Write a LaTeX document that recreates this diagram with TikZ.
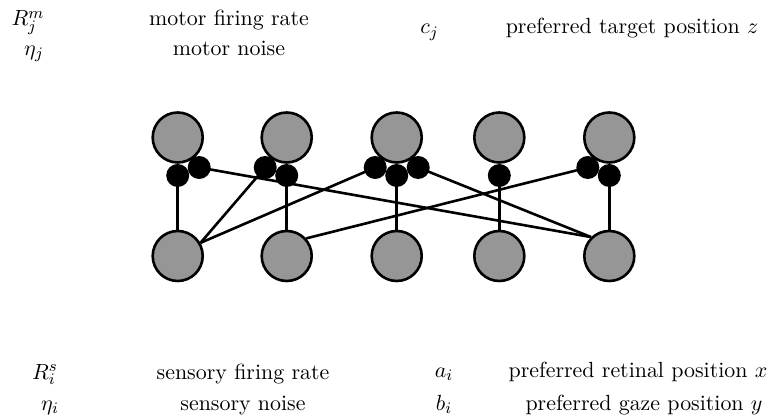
\documentclass[tikz,border=0pt]{standalone}
\definecolor{cellgray}{RGB}{150,150,150}
\begin{document}
\begin{tikzpicture}[x=0.5pt,y=-0.5pt,
  cell/.style={circle,draw=black,line width=1.3pt,fill=cellgray,minimum size=25pt,inner sep=0pt},
  syn/.style={circle,fill=black,minimum size=11.5pt,inner sep=0pt},
  wire/.style={line width=1.3pt},
  lbl/.style={anchor=base,inner sep=0pt,font=\fontsize{10.95}{13}\selectfont}]
\useasboundingbox (0,0) rectangle (780,416);

% motor layer (top)
\node[cell] (t1) at (177.7,137.5) {};
\node[cell] (t2) at (286.7,137.5) {};
\node[cell] (t3) at (396.7,137.5) {};
\node[cell] (t4) at (499.3,137.5) {};
\node[cell] (t5) at (609.3,137.5) {};

% synapses under the motor units
\node[syn] (d1s) at (177.7,175.5) {};
\node[syn] (d1r) at (199.2,167.5) {};
\node[syn] (d2l) at (265.2,167.5) {};
\node[syn] (d2s) at (286.7,175.5) {};
\node[syn] (d3l) at (375.2,167.5) {};
\node[syn] (d3r) at (418.2,167.5) {};
\node[syn] (d3s) at (396.7,175.5) {};
\node[syn] (d4s) at (499.3,175.5) {};
\node[syn] (d5l) at (587.8,167.5) {};
\node[syn] (d5s) at (609.3,175.5) {};

% sensory layer (bottom)
\node[cell] (b1) at (177.7,256) {};
\node[cell] (b2) at (286.7,256) {};
\node[cell] (b3) at (396.7,256) {};
\node[cell] (b4) at (499.3,256) {};
\node[cell] (b5) at (609.3,256) {};

% connections
\draw[wire] (b1.north) -- (d1s.center);
\draw[wire] (b2.north) -- (d2s.center);
\draw[wire] (b3.north) -- (d3s.center);
\draw[wire] (b4.north) -- (d4s.center);
\draw[wire] (b5.north) -- (d5s.center);
\draw[wire] (b1.30) -- (d2l.center);
\draw[wire] (b1.30) -- (d3l.center);
\draw[wire] (b2.42) -- (d5l.center);
\draw[wire] (d1r.center) -- (b5.134);
\draw[wire] (d3r.center) -- (b5.134);

% legend
\node[lbl] (lRm) at (28,26) {$R_j^m$};
\node[lbl] (tRm) at (229,26) {motor firing rate};
\node[lbl] (leta) at (34,55.5) {$\eta_j$};
\node[lbl] (teta) at (229,55.5) {motor noise};
\node[lbl] (lc) at (429.5,34) {$c_j$};
\node[lbl] (tc) at (632,34) {preferred target position $z$};

\node[lbl] (lRs) at (45,379) {$R_i^s$};
\node[lbl] (tRs) at (243,379) {sensory firing rate};
\node[lbl] (letai) at (50,410.5) {$\eta_i$};
\node[lbl] (tetai) at (243,410.5) {sensory noise};
\node[lbl] (la) at (444,377) {$a_i$};
\node[lbl] (ta) at (638,377) {preferred retinal position $x$};
\node[lbl] (lb) at (444,410.5) {$b_i$};
\node[lbl] (tb) at (644,410.5) {preferred gaze position $y$};
\end{tikzpicture}
\end{document}
